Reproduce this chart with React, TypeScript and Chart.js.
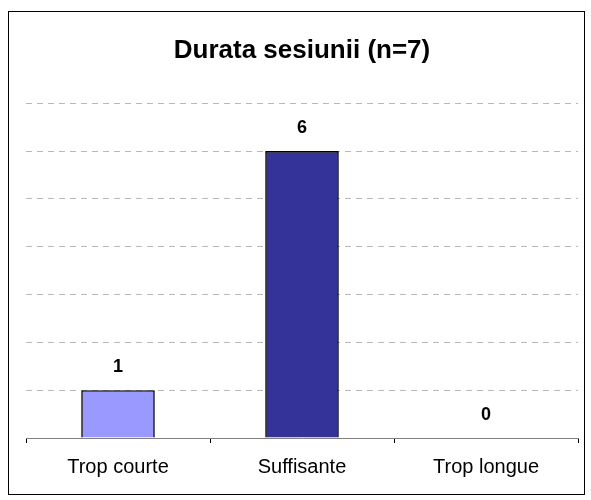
import React, { useEffect, useRef } from "react";
import { Chart, registerables } from "chart.js";

Chart.register(...registerables);

const categories = ["Trop courte", "Suffisante", "Trop longue"];
const values = [1, 6, 0];
const barColors = ["#9999FF", "#333399", "#9999FF"];
const yMax = 7;
const titleText = "Durata sesiunii (n=7)";
const FONT = "'Liberation Sans', Arial, sans-serif";

const framePlugin = {
  id: "frame",
  beforeDraw(chart: any) {
    const ctx = chart.ctx;
    ctx.save();
    ctx.fillStyle = "#ffffff";
    ctx.fillRect(0, 0, chart.width, chart.height);
    ctx.strokeStyle = "#000000";
    ctx.lineWidth = 1;
    ctx.strokeRect(8.5, 11.5, 576, 483);
    ctx.restore();
  },
};

const labelPlugin = {
  id: "barLabels",
  afterDatasetsDraw(chart: any) {
    const ctx = chart.ctx;
    const meta = chart.getDatasetMeta(0);
    ctx.save();
    ctx.fillStyle = "#000000";
    ctx.font = `bold 18px ${FONT}`;
    ctx.textAlign = "center";
    ctx.textBaseline = "alphabetic";
    meta.data.forEach((bar: any, i: number) => {
      ctx.fillText(String(values[i]), bar.x, bar.y - 18);
    });
    ctx.restore();
  },
};

export default function App() {
  const ref = useRef<HTMLCanvasElement | null>(null);
  useEffect(() => {
    if (!ref.current) return;
    const chart = new Chart(ref.current, {
      type: "bar",
      data: {
        labels: categories,
        datasets: [
          {
            data: values,
            backgroundColor: barColors,
            borderColor: "#000000",
            borderWidth: 1.6,
            barPercentage: 0.4,
            categoryPercentage: 1,
          },
        ],
      },
      options: {
        responsive: false,
        animation: false,
        devicePixelRatio: 1,
        layout: { padding: { top: 0, left: 26, right: 13, bottom: 9 } },
        plugins: {
          legend: { display: false },
          tooltip: { enabled: false },
          title: {
            display: true,
            text: titleText,
            color: "#000000",
            font: { family: FONT, size: 26, weight: "bold", lineHeight: 1.2 },
            padding: { top: 35, bottom: 37 },
          },
        },
        scales: {
          x: {
            offset: true,
            grid: {
              display: true,
              drawOnChartArea: false,
              drawTicks: true,
              tickLength: 5,
              offset: true,
              color: "#000000",
            },
            border: { display: true, color: "#808080", width: 1 },
            ticks: {
              color: "#000000",
              padding: 12,
              font: { family: FONT, size: 20 },
              maxRotation: 0,
            },
          },
          y: {
            min: 0,
            max: yMax,
            ticks: { display: false, stepSize: 1 },
            border: { display: false, dash: [6, 5] },
            grid: {
              drawTicks: false,
              color: (c: any) => (c.tick && c.tick.value === 0 ? "rgba(0,0,0,0)" : "#b8b8b8"),
              lineWidth: 1,
            },
          },
        },
      },
      plugins: [framePlugin, labelPlugin],
    } as any);
    return () => chart.destroy();
  }, []);
  return (
    <div style={{ position: "fixed", left: 0, top: 0, width: 591, height: 500 }}>
      <canvas ref={ref} width={591} height={500} />
    </div>
  );
}
